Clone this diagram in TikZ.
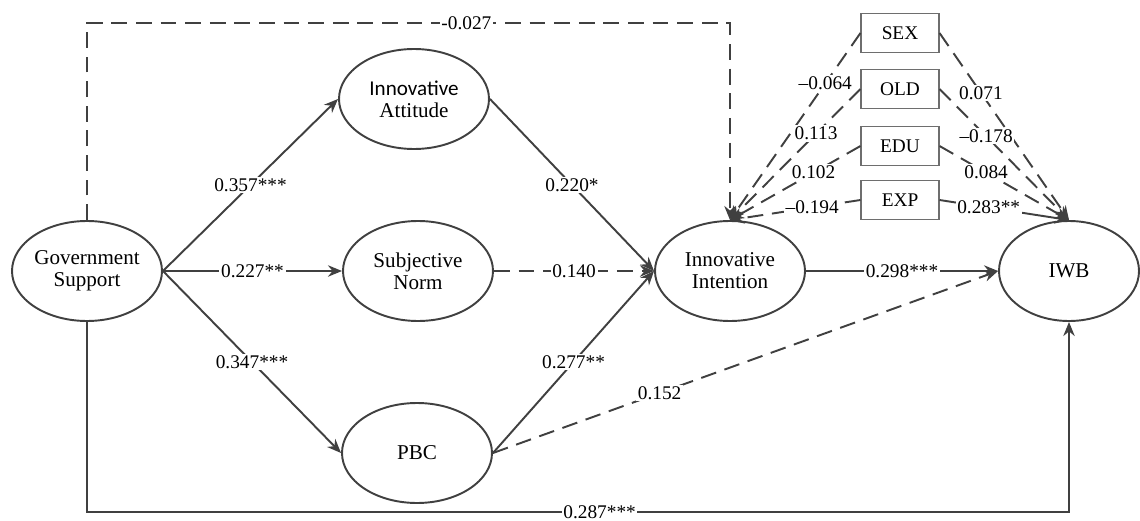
\documentclass[tikz,border=0pt]{standalone}
\usepackage{fontspec}
\setmainfont{Liberation Serif}
\newfontfamily\carlito{Carlito}
\usepackage{tikz}
\usetikzlibrary{shapes.geometric, arrows.meta, positioning}
\usepackage{xcolor}
\definecolor{lineGray}{RGB}{64,64,64}
\definecolor{boxGray}{RGB}{110,110,110}

\begin{document}
\begin{tikzpicture}[
  font=\fontsize{11}{13}\selectfont,
  latent/.style={ellipse, draw=lineGray, line width=1.1pt,
                 minimum width=3cm, minimum height=2cm,
                 inner sep=0pt, align=center,
                 font=\fontsize{12}{12.5}\selectfont},
  ctrl/.style={rectangle, draw=boxGray, line width=0.6pt,
               minimum width=1.56cm, minimum height=0.78cm, inner sep=0pt},
  arr/.style={-{Stealth[length=8pt, width=6.5pt]}, line width=1.1pt, lineGray},
  darr/.style={arr, dash pattern=on 9pt off 5pt},
  coef/.style={fill=white, inner sep=1pt, text=black}
]
  \useasboundingbox (0,0) rectangle (22.8,-10.42);

  \node[latent] (gov)  at (1.74,-5.42) {Government\\Support};
  \node[latent] (att)  at (8.28,-1.98) {{\carlito Innovative}\\Attitude};
  \node[latent] (norm) at (8.36,-5.42) {Subjective\\Norm};
  \node[latent] (pbc)  at (8.34,-9.06) {PBC};
  \node[latent] (int)  at (14.6,-5.42) {Innovative\\Intention};
  \node[latent, minimum width=2.8cm] (iwb) at (21.38,-5.42) {IWB};

  \foreach \b/\t/\y in {sex/SEX/-0.66, old/OLD/-1.78, edu/EDU/-2.92, exp/EXP/-4.00}
    \node[ctrl] (\b) at (18.0,\y) {\t};

  % structural paths
  \draw[arr]  (gov.east) -- (att.west)  node[coef, midway] {0.357***};
  \draw[arr]  (gov.east) -- (norm.west) node[coef, midway] {0.227**};
  \draw[arr]  (gov.east) -- (pbc.west)  node[coef, midway] {0.347***};
  \draw[arr]  (att.east) -- (int.west)  node[coef, midway] {0.220*};
  \draw[darr] (norm.east) -- (int.west) node[coef, midway] {0.140};
  \draw[arr]  (pbc.east) -- (int.west)  node[coef, midway] {0.277**};
  \draw[darr] (pbc.east) -- (iwb.west)  node[coef, pos=0.33] {0.152};
  \draw[arr]  (int.east) -- (iwb.west)  node[coef, midway] {0.298***};
  \draw[darr] (gov.north) -- ++(0,3.94) -| (int.north)
    node[coef, pos=0.295] {-0.027};
  \draw[arr]  (gov.south) -- ++(0,-3.80) -| (iwb.south)
    node[coef, pos=0.261, inner sep=0.5pt] {0.287***};

  % control variables
  \foreach \b/\s/\p/\c in {sex/darr/0.27/\textendash0.064, old/darr/0.34/0.113,
                           edu/darr/0.36/0.102, exp/darr/0.37/\textendash0.194}
    \draw[\s] (\b.west) -- (int.north) node[coef, pos=\p] {\c};
  \foreach \b/\s/\p/\c in {sex/darr/0.32/0.071, old/darr/0.36/\textendash0.178,
                           edu/darr/0.36/0.084, exp/arr/0.38/0.283**}
    \draw[\s] (\b.east) -- (iwb.north) node[coef, pos=\p] {\c};
\end{tikzpicture}
\end{document}
